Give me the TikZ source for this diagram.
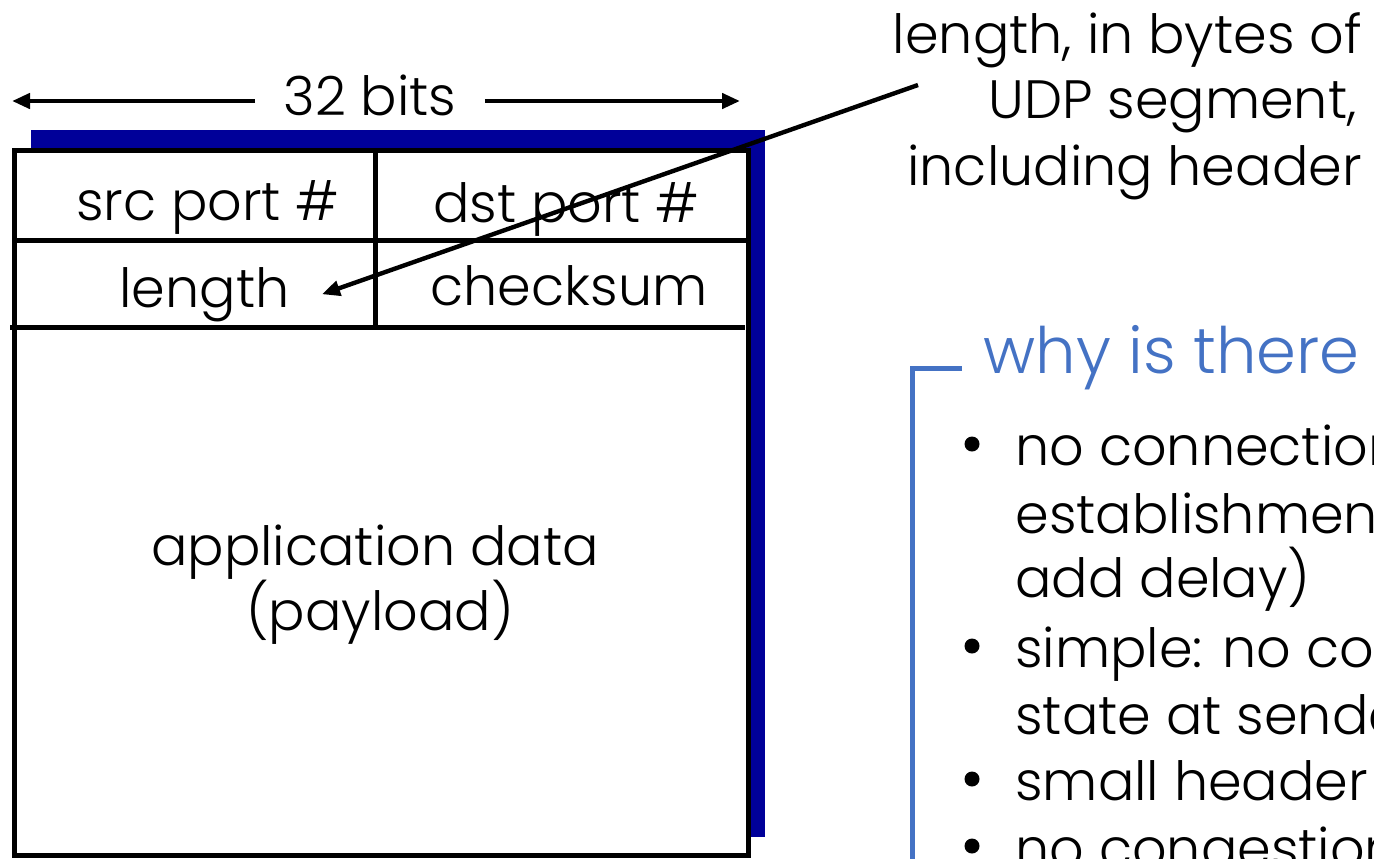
\documentclass[tikz,border=0pt]{standalone}
\usepackage{fontspec}
\setmainfont{Poppins}[UprightFont=* Light]
\usetikzlibrary{arrows.meta}
\definecolor{shadowblue}{RGB}{0,0,153}
\definecolor{accent}{RGB}{68,114,196}
\tikzset{
  txt/.style={inner sep=0pt, font=\fontsize{27}{33}\selectfont},
  head/.style={inner sep=0pt, font=\fontsize{32}{38}\selectfont, text=accent},
  arr/.style={line width=2.2pt, -{Triangle[length=9pt,width=7.5pt]}},
  frame/.style={line width=2.5pt},
  bar/.style={line width=2.5pt, draw=accent},
  dot/.style={circle, fill=black, inner sep=0pt, minimum size=7.5pt}
}
\begin{document}
\begin{tikzpicture}[x=0.5pt,y=-0.5pt]
\useasboundingbox (0,0) rectangle (1374,858);
\clip (0,0) rectangle (1374,858);

% segment outline with its shadow
\fill[shadowblue] (31,130) rectangle (765,837);
\filldraw[fill=white, frame] (14,150) rectangle (748,855);
\draw[frame] (14,240) -- (748,240);
\draw[frame] (10,327) -- (745,327);
\draw[frame] (375,150) -- (375,327);

% field labels
\node[txt, anchor=base east] (src) at (340,220) {src port \#};
\node[txt, anchor=base east] (dst) at (700,222) {dst port \#};
\node[txt, anchor=base east] (len) at (290,307) {length};
\node[txt, anchor=base] (chk) at (569,305) {checksum};
\node[txt, anchor=base] (app) at (375,565) {application data};
\node[txt, anchor=base] (pay) at (380,630) {(payload)};

% width marker
\node[txt, anchor=base, inner xsep=14pt] (bits) at (370,115) {32 bits};
\coordinate (bitsL) at (12,101);
\coordinate (bitsR) at (740,101);
\draw[arr] (bits.west |- bitsL) -- (bitsL);
\draw[arr] (bits.east |- bitsR) -- (bitsR);

% callout on the length field
\node[txt, anchor=base east] (note1) at (1362,53) {length, in bytes of};
\node[txt, anchor=base east] (note2) at (1357,118) {UDP segment,};
\node[txt, anchor=base east] (note3) at (1362,185) {including header};
\coordinate (callout) at (918,85);
\draw[arr] (callout) -- ([xshift=16pt]len.east);

% side panel
\node[head, anchor=base west] (why) at (983,373) {why is there a UDP?};
\coordinate (barTop) at (962,368);
\draw[bar] (barTop) -- (912,368) -- (912,870);

\node[dot] (b1) at (972,444) {};
\node[txt, anchor=base west] (l1) at (1015,465) {no connection};
\node[txt, anchor=base west] (l2) at (1015,533) {establishment (which can};
\node[txt, anchor=base west] (l3) at (1015,597) {add delay)};
\node[dot] (b2) at (972,646) {};
\node[txt, anchor=base west] (l4) at (1015,667) {simple: no connection};
\node[txt, anchor=base west] (l5) at (1015,734) {state at sender, receiver};
\node[dot] (b3) at (972,779) {};
\node[txt, anchor=base west] (l6) at (1015,800) {small header size};
\node[dot] (b4) at (972,846) {};
\node[txt, anchor=base west] (l7) at (1015,867) {no congestion control};
\end{tikzpicture}
\end{document}
